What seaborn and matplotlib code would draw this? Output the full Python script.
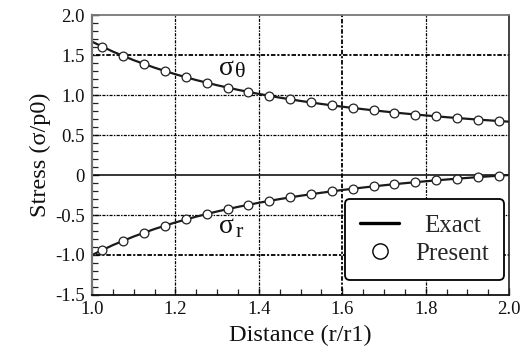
import numpy as np
import pandas as pd
import matplotlib
matplotlib.use("Agg")
import matplotlib.pyplot as plt
import seaborn as sns
from matplotlib.lines import Line2D
from matplotlib.ticker import MultipleLocator

# Exact solution curve
x_exact = [1.00, 1.05, 1.10, 1.15, 1.20, 1.25, 1.30, 1.35, 1.40, 1.45, 1.50,
           1.55, 1.60, 1.65, 1.70, 1.75, 1.80, 1.85, 1.90, 1.95, 2.00]
stheta_exact = [1.6667, 1.5427, 1.4353, 1.3415, 1.2593, 1.1867, 1.1223, 1.0649,
                1.0136, 0.9675, 0.9259, 0.8883, 0.8542, 0.8231, 0.7947, 0.7687,
                0.7449, 0.7229, 0.7027, 0.6840, 0.6667]
sr_exact = [-1.0000, -0.8760, -0.7686, -0.6748, -0.5926, -0.5200, -0.4556,
            -0.3982, -0.3469, -0.3008, -0.2592, -0.2216, -0.1875, -0.1564,
            -0.1280, -0.1020, -0.0782, -0.0562, -0.0360, -0.0173, 0.0000]

# Present (markers)
x_pres = [1.025, 1.075, 1.125, 1.175, 1.225, 1.275, 1.325, 1.375, 1.425, 1.475,
          1.525, 1.575, 1.625, 1.675, 1.725, 1.775, 1.825, 1.875, 1.925, 1.975]
stheta_pres = [1.6024, 1.4871, 1.3868, 1.2991, 1.2219, 1.1535, 1.0928, 1.0386,
               0.9899, 0.9462, 0.9067, 0.8708, 0.8383, 0.8086, 0.7814, 0.7565,
               0.7337, 0.7126, 0.6931, 0.6752]
sr_pres = [-0.9357, -0.8204, -0.7201, -0.6324, -0.5552, -0.4868, -0.4261,
           -0.3719, -0.3232, -0.2795, -0.2400, -0.2041, -0.1716, -0.1419,
           -0.1147, -0.0898, -0.0670, -0.0459, -0.0264, -0.0085]

x_ticks = [1.0, 1.2, 1.4, 1.6, 1.8, 2.0]
x_ticklabels = ["1.0", "1.2", "1.4", "1.6", "1.8", "2.0"]
y_ticks = [2.0, 1.5, 1.0, 0.5, 0.0, -0.5, -1.0, -1.5]
y_ticklabels = ["2.0", "1.5", "1.0", "0.5", "0", "-0.5", "-1.0", "-1.5"]

sns.set_theme(style="white")
plt.rcParams['font.family'] = ['Liberation Serif', 'DejaVu Serif']

fig = plt.figure(figsize=(5.32, 3.58), dpi=100)
ax = fig.add_axes([0.173, 0.176, 0.784, 0.782])

df_exact = pd.DataFrame({"x": x_exact * 2, "y": stheta_exact + sr_exact,
                         "s": ["theta"] * len(x_exact) + ["r"] * len(x_exact)})
df_pres = pd.DataFrame({"x": x_pres * 2, "y": stheta_pres + sr_pres,
                        "s": ["theta"] * len(x_pres) + ["r"] * len(x_pres)})

ax.grid(False)
gls = (0, (1.2, 1.0, 2.5, 1.0))
for xv in [1.2, 1.4, 1.6, 1.8]:
    ax.axvline(xv, color="black", lw=1.3 if xv == 1.6 else 0.9, ls=gls, zorder=1)
for yv in [1.5, 1.0, 0.5, -0.5, -1.0]:
    ax.axhline(yv, color="black", lw=1.3 if yv in (1.5, -1.0) else 0.9,
               ls=gls, zorder=1)
ax.axhline(0, color="black", lw=1.1, zorder=1)

sns.lineplot(data=df_exact, x="x", y="y", units="s", estimator=None,
             color="#1a1a1a", lw=1.6, ax=ax, zorder=2, legend=False)
sns.scatterplot(data=df_pres, x="x", y="y", marker="o", s=40,
                facecolor="white", edgecolor="#222222", linewidth=0.9,
                ax=ax, zorder=3, legend=False)

ax.set_xlim(1.0, 2.0)
ax.set_ylim(-1.5, 2.0)
ax.set_xticks(x_ticks)
ax.set_xticklabels(x_ticklabels)
ax.set_yticks(y_ticks)
ax.set_yticklabels(y_ticklabels)
ax.xaxis.set_minor_locator(MultipleLocator(0.05))
ax.yaxis.set_minor_locator(MultipleLocator(0.1))
ax.tick_params(which="major", direction="in", length=5, width=1.0,
               labelsize=13.5, colors="#222222", labelcolor="#111111",
               bottom=True, left=True, top=False, right=False)
ax.tick_params(axis="x", which="major", pad=4)
ax.tick_params(axis="y", which="major", pad=5)
ax.tick_params(which="minor", direction="in", length=4, width=0.9,
               bottom=True, left=True, top=False, right=False,
               colors="#222222")

ax.set_xlabel("Distance (r/r1)", fontsize=17.5, labelpad=5, color="#111111")
ax.set_ylabel("Stress (σ/p0)", fontsize=17.5, labelpad=3, color="#111111")

for side, c, w in [("left", "#777777", 1.6), ("top", "#777777", 1.3),
                   ("right", "#222222", 1.2), ("bottom", "#111111", 1.3)]:
    ax.spines[side].set_visible(True)
    ax.spines[side].set_color(c)
    ax.spines[side].set_linewidth(w)

# sigma_theta label
ax.text(1.305, 1.25, "σ", fontsize=20, color="#111111", ha="left", va="baseline")
ax.annotate("θ", xy=(1.305, 1.25), xytext=(11, -1.5), textcoords="offset points",
            fontsize=16, color="#111111", ha="left", va="baseline")
# sigma_r label
ax.text(1.305, -0.725, "σ", fontsize=20, color="#111111", ha="left", va="baseline")
ax.annotate("r", xy=(1.305, -0.725), xytext=(12, -3), textcoords="offset points",
            fontsize=16, color="#111111", ha="left", va="baseline")

handles = [Line2D([0], [0], color="black", lw=2.4),
           Line2D([0], [0], marker="o", ls="none", markersize=11,
                  markerfacecolor="white", markeredgecolor="black",
                  markeredgewidth=1.0)]
leg = ax.legend(handles, ["Exact", "Present"], loc="lower right",
                bbox_to_anchor=(0.988, 0.054), fontsize=18, frameon=True,
                fancybox=True, handlelength=1.55, handletextpad=0.65,
                borderpad=0.6, labelspacing=0.22, borderaxespad=0)
leg.get_frame().set_edgecolor("black")
leg.get_frame().set_linewidth(1.3)
leg.get_frame().set_facecolor("white")
leg.get_frame().set_alpha(1)
leg.set_zorder(5)
# centre the shorter label over the longer one, as in the reference
leg.get_texts()[0].set_x(9)

fig.savefig("out.png", dpi=100)
